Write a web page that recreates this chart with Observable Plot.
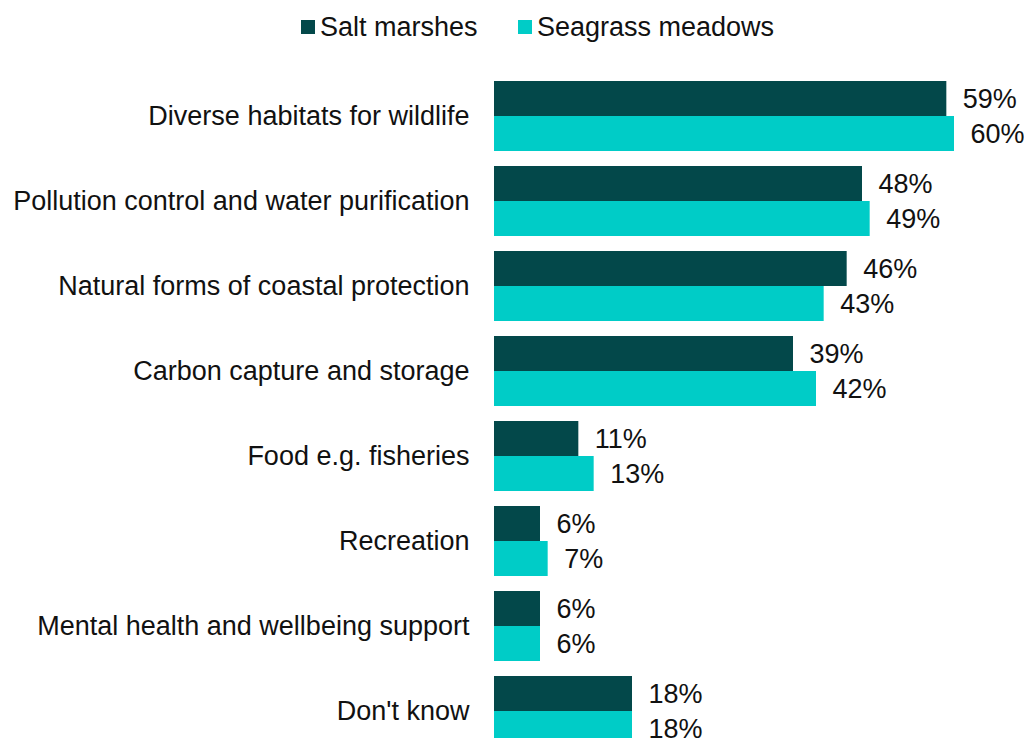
<!DOCTYPE html>
<html>
<head>
<meta charset="utf-8">
<script src="https://cdn.jsdelivr.net/npm/d3@7"></script>
<script src="https://cdn.jsdelivr.net/npm/@observablehq/plot@0.6"></script>
<style>
  html, body { margin: 0; padding: 0; background: #fff; overflow: hidden; width: 1024px; height: 738px; }
  body { font-family: "Liberation Sans", Arial, sans-serif; }
  #legend { position: relative; height: 54px; width: 1024px; font-size: 27px; color: #111; }
  .item { position: absolute; top: 11px; display: flex; align-items: center; height: 32px; }
  .sw { width: 14px; height: 14px; margin-right: 5px; }
  #chart svg { display: block; }
</style>
</head>
<body>
<div id="legend"></div>
<div id="chart"></div>
<script>
const categories = [
  "Diverse habitats for wildlife",
  "Pollution control and water purification",
  "Natural forms of coastal protection",
  "Carbon capture and storage",
  "Food e.g. fisheries",
  "Recreation",
  "Mental health and wellbeing support",
  "Don't know"
];
const seriesNames = ["Salt marshes", "Seagrass meadows"];
const saltMarshes = [59, 48, 46, 39, 11, 6, 6, 18];
const seagrassMeadows = [60, 49, 43, 42, 13, 7, 6, 18];
const colors = ["#03484A", "#00CCC7"];

const data = [];
categories.forEach((c, i) => {
  data.push({category: c, series: seriesNames[0], value: saltMarshes[i]});
  data.push({category: c, series: seriesNames[1], value: seagrassMeadows[i]});
});

// Legend
const legend = document.getElementById("legend");
const legendLeft = [301, 518];
seriesNames.forEach((s, i) => {
  const it = document.createElement("div");
  it.className = "item";
  it.style.left = legendLeft[i] + "px";
  const sw = document.createElement("div");
  sw.className = "sw";
  sw.style.background = colors[i];
  const t = document.createElement("span");
  t.textContent = s;
  it.appendChild(sw);
  it.appendChild(t);
  legend.appendChild(it);
});

const chart = Plot.plot({
  width: 1024,
  height: 710,
  marginLeft: 494,
  marginRight: 70,
  marginTop: 27,
  marginBottom: 18,
  style: {fontFamily: "'Liberation Sans', Arial, sans-serif", fontSize: "27px", color: "#111", background: "#fff"},
  x: {domain: [0, 60], axis: null},
  fy: {domain: categories, paddingInner: 15 / 85, paddingOuter: 0, label: null},
  y: {domain: seriesNames, padding: 0, axis: null},
  color: {domain: seriesNames, range: colors},
  marks: [
    Plot.barX(data, {fy: "category", y: "series", x: "value", fill: "series"}),
    Plot.text(data, {fy: "category", y: "series", x: "value", text: d => d.value + "%", textAnchor: "start", dx: 16, fontSize: 27, fill: "#111"}),
    Plot.axisFy({anchor: "left", tickSize: 0, tickPadding: 25, fontSize: 27, label: null, fill: "#111"})
  ]
});
document.getElementById("chart").appendChild(chart);
</script>
</body>
</html>
